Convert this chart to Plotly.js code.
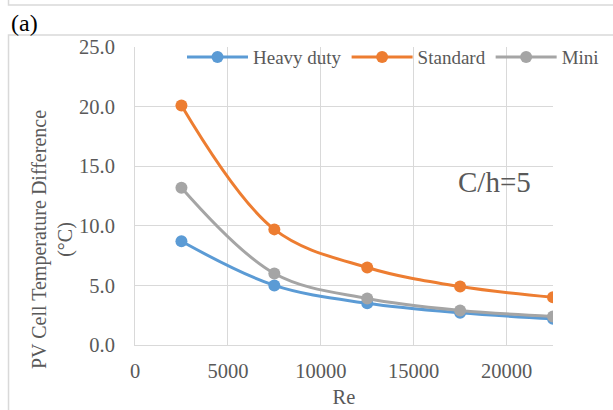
<!DOCTYPE html>
<html><head><meta charset="utf-8">
<script src="https://cdn.plot.ly/plotly-3.0.1.min.js"></script>
<style>html,body{margin:0;padding:0;background:#fff;}#c{width:613px;height:410px;}</style>
</head><body><div id="c"></div>
<script>
var re = [2500, 7500, 12500, 17500, 22500];
var heavyDuty = [8.7, 5.0, 3.5, 2.7, 2.2];
var standard = [20.1, 9.7, 6.5, 4.9, 4.0];
var mini = [13.2, 6.0, 3.9, 2.9, 2.4];
var seriesNames = ['Heavy duty', 'Standard', 'Mini'];
var colors = ['#5B9BD5', '#ED7D31', '#A5A5A5'];
var values = [heavyDuty, standard, mini];

var font = 'Liberation Serif';
var grey = '#595959';
var traces = values.map(function(v, i){
  return {x: re, y: v, name: seriesNames[i], type: 'scatter', mode: 'lines+markers',
    line: {color: colors[i], width: 3, shape: 'spline', smoothing: 1},
    marker: {color: colors[i], size: 12}};
});

var layout = {
  width: 613, height: 410,
  margin: {l: 135, r: 60, t: 47, b: 65, autoexpand: false},
  paper_bgcolor: '#fff', plot_bgcolor: '#fff',
  font: {family: font, size: 20, color: grey},
  showlegend: true,
  legend: {orientation: 'h', x: 1.122, y: 1.03, xanchor: 'right', yanchor: 'top',
    bgcolor: 'rgba(0,0,0,0)', font: {family: font, size: 19, color: grey}, itemwidth: 61},
  xaxis: {range: [0, 22500], dtick: 5000, tick0: 0, tickformat: 'd', showgrid: true, gridcolor: '#D9D9D9', gridwidth: 1,
    showline: true, linecolor: '#D9D9D9', linewidth: 1, zeroline: false, ticks: '', ticklabelstandoff: 7,
    tickfont: {family: font, size: 20.5, color: grey},
    title: {text: 'Re', font: {family: font, size: 20.5, color: grey}, standoff: 9}},
  yaxis: {range: [0, 25], dtick: 5, tick0: 0, tickformat: '.1f', showgrid: true, gridcolor: '#D9D9D9', gridwidth: 1,
    showline: true, linecolor: '#D9D9D9', linewidth: 1, zeroline: false, ticks: '', ticklabelstandoff: 15,
    tickfont: {family: font, size: 20.5, color: grey}},
  annotations: [
    {text: 'PV Cell Temperature Difference<br>(°C)', xref: 'paper', yref: 'paper', x: -0.199, y: 0.355,
      xanchor: 'center', yanchor: 'middle', textangle: -90, showarrow: false,
      font: {family: font, size: 20, color: grey}},
    {text: 'C/h=5', xref: 'paper', yref: 'paper', x: 0.86, y: 0.547, xanchor: 'center', yanchor: 'middle',
      showarrow: false, font: {family: font, size: 29, color: grey}},
    {text: '(a)', xref: 'paper', yref: 'paper', x: -0.302, y: 1.079, xanchor: 'left', yanchor: 'middle',
      showarrow: false, font: {family: font, size: 24, color: '#000'}}
  ],
  shapes: [
    {type: 'rect', xref: 'paper', yref: 'paper', x0: -0.3026, x1: 1.2, y0: -0.25, y1: 1.0403,
      line: {color: '#D9D9D9', width: 1.5}, fillcolor: 'rgba(0,0,0,0)'},
    {type: 'rect', xref: 'paper', yref: 'paper', x0: -0.3026, x1: 1.2, y0: 1.141, y1: 1.3,
      line: {color: '#D9D9D9', width: 1.5}, fillcolor: 'rgba(0,0,0,0)'}
  ]
};
Plotly.newPlot('c', traces, layout, {displayModeBar: false, staticPlot: true});
</script></body></html>
